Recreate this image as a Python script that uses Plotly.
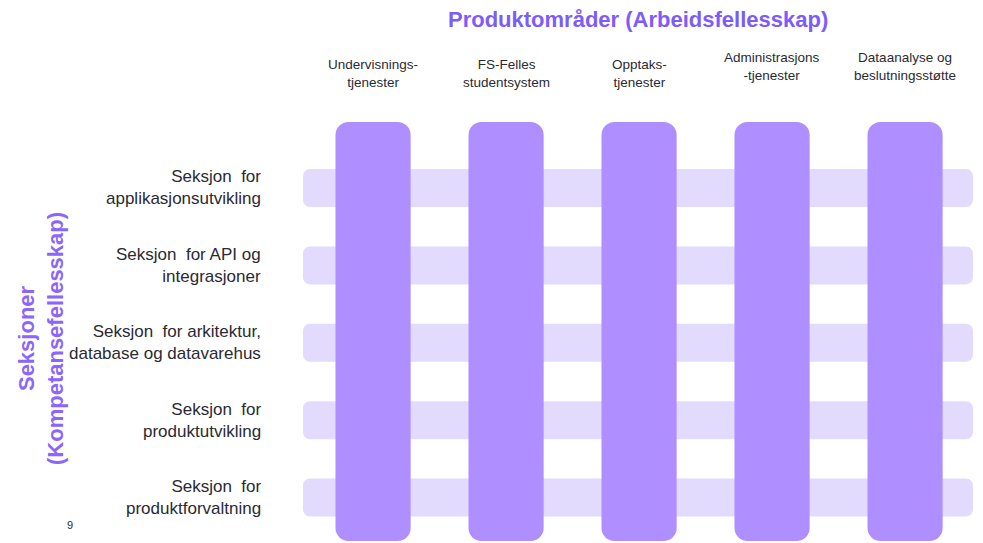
import plotly.graph_objects as go

# ---- data ----
title_top = "Produktområder (Arbeidsfellesskap)"
title_left = "Seksjoner<br>(Kompetansefellesskap)"
page_number = "9"

columns = ["Undervisningstjenester", "FS-Felles studentsystem", "Opptakstjenester",
           "Administrasjonstjenester", "Dataanalyse og beslutningsstøtte"]
column_labels = ["Undervisnings-<br>tjenester", "FS-Felles<br>studentsystem", "Opptaks-<br>tjenester",
                 "Administrasjons<br>-tjenester", "Dataanalyse og<br>beslutningsstøtte"]
column_span = [1, 1, 1, 1, 1]

rows = ["Seksjon for applikasjonsutvikling", "Seksjon for API og integrasjoner",
        "Seksjon for arkitektur, database og datavarehus", "Seksjon for produktutvikling",
        "Seksjon for produktforvaltning"]
row_labels = ["Seksjon  for<br>applikasjonsutvikling", "Seksjon  for API og<br>integrasjoner",
              "Seksjon  for arkitektur,<br>database og datavarehus", "Seksjon  for<br>produktutvikling",
              "Seksjon  for<br>produktforvaltning"]
row_span = [1, 1, 1, 1, 1]

# ---- style ----
W, H = 983, 543
COL_COLOR = "#AF8FFF"
ROW_COLOR = "#E2DBFD"
TITLE_COLOR = "#7C5CFA"
LEFT_TITLE_COLOR = "#8C66FC"
TEXT_COLOR = "#2A2A33"
FONT = "Liberation Sans, Arial, sans-serif"
col_label_shift = [0, 0, 0, 7, 7]

fig = go.Figure()

# Horizontal row bands (underneath); explicit base -> both ends rounded
fig.add_trace(go.Bar(
    y=rows, x=row_span, base=[0] * len(rows), orientation="h", width=0.491,
    marker=dict(color=ROW_COLOR, line=dict(width=0), cornerradius=7),
    xaxis="x", yaxis="y", hoverinfo="skip", showlegend=False))

# Vertical column bars (on top)
fig.add_trace(go.Bar(
    x=columns, y=column_span, base=[0] * len(columns),
    width=0.565, marker=dict(color=COL_COLOR, line=dict(width=0), cornerradius=13),
    xaxis="x2", yaxis="y2", hoverinfo="skip", showlegend=False))

annotations = []
annotations.append(dict(text=f"<b>{title_top}</b>", x=638 / W, y=1 - 19 / H, xref="paper", yref="paper",
                        xanchor="center", yanchor="middle", showarrow=False,
                        font=dict(family=FONT, size=22, color=TITLE_COLOR)))
annotations.append(dict(text=f"<b>{title_left}</b>", x=41 / W, y=1 - 339 / H, xref="paper", yref="paper",
                        xanchor="center", yanchor="middle", showarrow=False, textangle=-90,
                        font=dict(family=FONT, size=22, color=LEFT_TITLE_COLOR)))
annotations.append(dict(text=page_number, x=70 / W, y=1 - 525 / H, xref="paper", yref="paper",
                        xanchor="center", yanchor="middle", showarrow=False,
                        font=dict(family=FONT, size=11, color=TEXT_COLOR)))
for c, lab, sh in zip(columns, column_labels, col_label_shift):
    annotations.append(dict(text=lab, x=c, xref="x2", y=1 - 73 / H, yref="paper", yshift=sh,
                            xanchor="center", yanchor="middle", showarrow=False, align="center",
                            font=dict(family=FONT, size=13.5, color=TEXT_COLOR)))
for r, lab in zip(rows, row_labels):
    annotations.append(dict(text=lab, y=r, yref="y", x=263 / W, xref="paper",
                            xanchor="right", yanchor="middle", showarrow=False, align="right",
                            font=dict(family=FONT, size=17, color=TEXT_COLOR)))

fig.update_layout(
    width=W, height=H, margin=dict(l=0, r=0, t=0, b=0),
    paper_bgcolor="white", plot_bgcolor="white",
    barmode="overlay", hovermode=False,
    xaxis=dict(range=[-0.4522, 1.015], visible=False, fixedrange=True),
    yaxis=dict(type="category", categoryorder="array", categoryarray=rows,
               range=[4.587, -2.429], visible=False, fixedrange=True),
    xaxis2=dict(type="category", categoryorder="array", categoryarray=columns,
                range=[-2.805, 4.586], overlaying="x", visible=False, fixedrange=True),
    yaxis2=dict(range=[-0.0048, 1.291], overlaying="y", visible=False, fixedrange=True),
    annotations=annotations,
)

fig.write_html("out.html", config={"displayModeBar": False},
               post_script="document.body.style.margin='0';document.body.style.overflow='hidden';")
